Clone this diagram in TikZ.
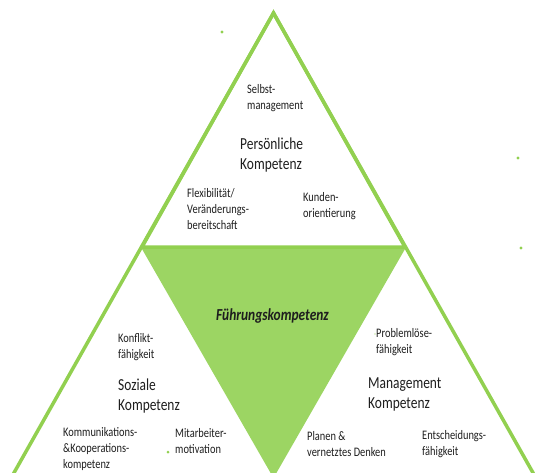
\documentclass[tikz,border=0pt]{standalone}
\usepackage{fontspec}
\setmainfont[FakeStretch=0.8]{Carlito}
\definecolor{gline}{HTML}{92D050}
\definecolor{gfill}{HTML}{9CD563}
\definecolor{txt}{HTML}{1E1E1E}
\begin{document}
\begin{tikzpicture}[x=1pt,y=-1pt,
  small/.style={anchor=west,align=left,inner sep=0pt,text=txt,font=\fontsize{13}{16}\selectfont},
  large/.style={anchor=west,align=left,inner sep=0pt,text=txt,font=\fontsize{16.8}{20}\selectfont},
  tline/.style={draw=gline,line width=3.5pt,line join=miter},
  speck/.style={fill=gline,draw=none}]
\useasboundingbox (0,0) rectangle (535,472);
\clip (0,0) rectangle (535,472);
\fill[white] (0,0) rectangle (535,472);
% coordinates
\coordinate (apex) at (273.5,13);
\coordinate (bl) at (142,247);
\coordinate (br) at (405,247);
\coordinate (gl) at (142,249);
\coordinate (gr) at (405,249);
\coordinate (gb) at (273.5,478);
\coordinate (ll) at (-7,510);
\coordinate (rr) at (554,510);
% green inverted triangle
\fill[gfill] (gl) -- (gr) -- (gb) -- cycle;
% big triangle sides
\draw[tline] (ll) -- (apex) -- (rr);
% top triangle
\draw[tline] (apex) -- (bl) -- (br) -- cycle;
% specks
\fill[speck] (222,32) circle (1.6);
\fill[speck] (518,158) circle (1.6);
\fill[speck] (521,248) circle (1.6);
\fill[speck] (168,452) circle (1.5);
\fill[speck] (375,334) circle (0.6);
% texts
\node[small] (selbst) at (247,98) {Selbst-\\management};
\node[large] (pers) at (240,155.5) {Persönliche\\Kompetenz};
\node[small] (flex) at (187,209) {Flexibilität/\\Veränderungs-\\bereitschaft};
\node[small] (kunden) at (303,206.5) {Kunden-\\orientierung};
\node[inner sep=0pt,text=txt,font=\fontsize{16.8}{19}\selectfont\bfseries\itshape] (fk) at (272.5,316) {Führungskompetenz};
\node[small] (konf) at (118,347) {Konflikt-\\fähigkeit};
\node[large] (soz) at (118,396) {Soziale\\Kompetenz};
\node[small] (komm) at (63,449) {Kommunikations-\\\&Kooperations-\\kompetenz};
\node[small] (mit) at (175,441.5) {Mitarbeiter-\\motivation};
\node[small] (prob) at (376,342.5) {Problemlöse-\\fähigkeit};
\node[large] (man) at (368,394) {Management\\Kompetenz};
\node[small] (plan) at (307,444) {Planen \&\\vernetztes Denken};
\node[small] (ents) at (422,444.5) {Entscheidungs-\\fähigkeit};
\end{tikzpicture}
\end{document}
